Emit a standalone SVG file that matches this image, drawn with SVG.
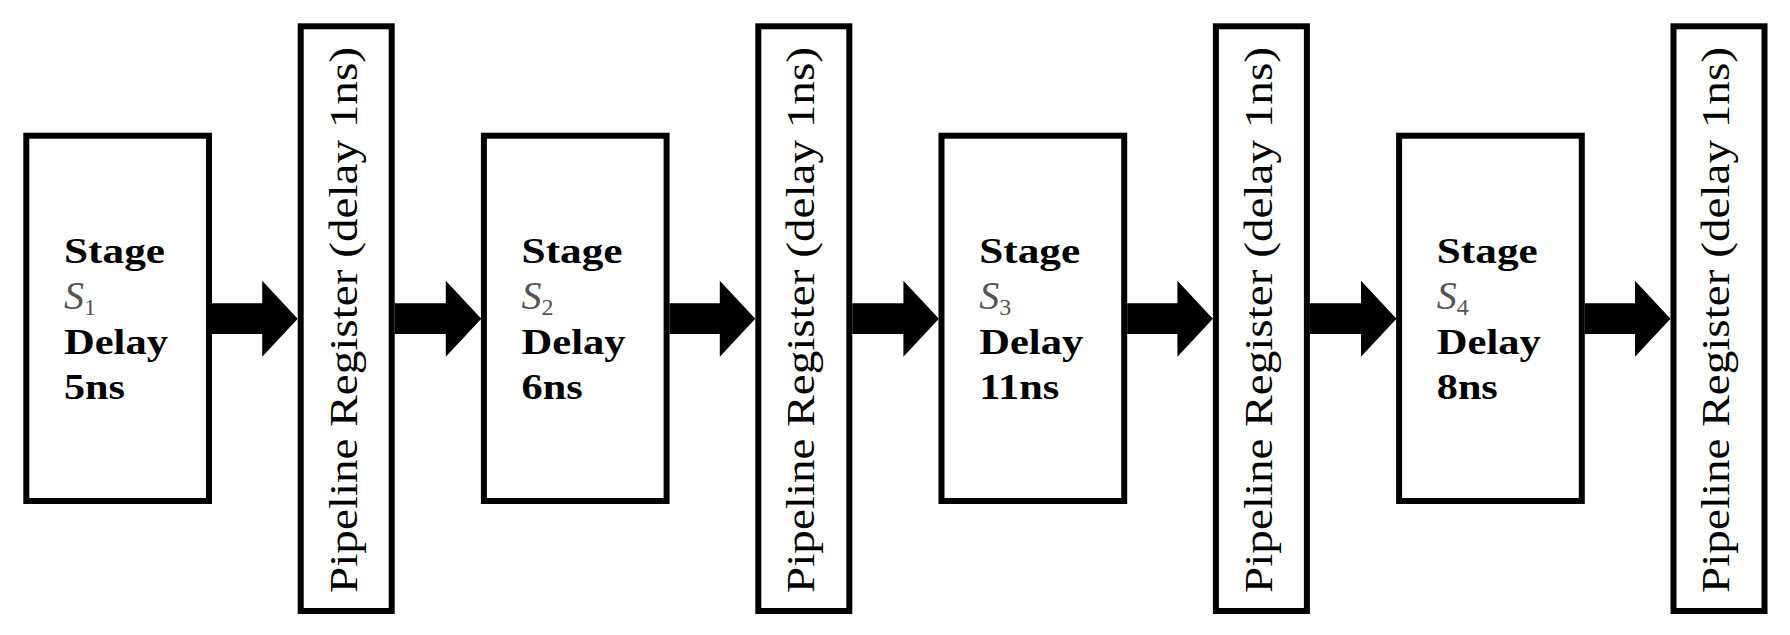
<svg xmlns="http://www.w3.org/2000/svg" width="1790" height="635" viewBox="0 0 1790 635">
<style>
.box{fill:#fff;stroke:#000;stroke-width:6}
.arr{fill:#000;stroke:none}
.st{font-family:"Liberation Serif","Times New Roman",serif;font-size:36px;font-weight:bold;fill:#000}
.sv{font-family:"Liberation Serif","Times New Roman",serif;font-size:40px;font-style:italic;fill:#555}
.sub{font-style:normal;font-size:24px}
.rg{font-family:"Liberation Serif","Times New Roman",serif;font-size:41px;fill:#000}
</style>
<rect width="1790" height="635" fill="#fff"/>
<g id="connectors">
<polygon class="arr" points="212,303.3 262.2,303.3 262.2,280.7 297.7,318.7 262.2,356.7 262.2,334 212,334"/>
<polygon class="arr" points="394.7,303.3 445.8,303.3 445.8,280.7 481.3,318.7 445.8,356.7 445.8,334 394.7,334"/>
<polygon class="arr" points="669.6,303.3 719.8,303.3 719.8,280.7 755.3,318.7 719.8,356.7 719.8,334 669.6,334"/>
<polygon class="arr" points="852.3,303.3 903.4,303.3 903.4,280.7 938.9,318.7 903.4,356.7 903.4,334 852.3,334"/>
<polygon class="arr" points="1127.2,303.3 1177.4,303.3 1177.4,280.7 1212.9,318.7 1177.4,356.7 1177.4,334 1127.2,334"/>
<polygon class="arr" points="1309.9,303.3 1361,303.3 1361,280.7 1396.5,318.7 1361,356.7 1361,334 1309.9,334"/>
<polygon class="arr" points="1584.8,303.3 1635,303.3 1635,280.7 1670.5,318.7 1635,356.7 1635,334 1584.8,334"/>
</g>
<g id="stage1">
<rect class="box" x="26.3" y="135.7" width="182.7" height="365.3"/>
<text class="st" x="64" y="262.5" textLength="101" lengthAdjust="spacingAndGlyphs">Stage</text>
<text class="sv" x="64" y="308.5">S<tspan class="sub" dy="6">1</tspan></text>
<text class="st" x="64" y="354" textLength="104" lengthAdjust="spacingAndGlyphs">Delay</text>
<text class="st" x="64" y="398.5" textLength="61" lengthAdjust="spacingAndGlyphs">5ns</text>
</g>
<g id="register1">
<rect class="box" x="300.7" y="26.3" width="91" height="584.7"/>
<text class="rg" transform="translate(356.5,593) rotate(-90)" x="0" y="0" textLength="546" lengthAdjust="spacingAndGlyphs">Pipeline Register (delay 1ns)</text>
</g>
<g id="stage2">
<rect class="box" x="483.9" y="135.7" width="182.7" height="365.3"/>
<text class="st" x="521.6" y="262.5" textLength="101" lengthAdjust="spacingAndGlyphs">Stage</text>
<text class="sv" x="521.6" y="308.5">S<tspan class="sub" dy="6">2</tspan></text>
<text class="st" x="521.6" y="354" textLength="104" lengthAdjust="spacingAndGlyphs">Delay</text>
<text class="st" x="521.6" y="398.5" textLength="61" lengthAdjust="spacingAndGlyphs">6ns</text>
</g>
<g id="register2">
<rect class="box" x="758.3" y="26.3" width="91" height="584.7"/>
<text class="rg" transform="translate(814.1,593) rotate(-90)" x="0" y="0" textLength="546" lengthAdjust="spacingAndGlyphs">Pipeline Register (delay 1ns)</text>
</g>
<g id="stage3">
<rect class="box" x="941.5" y="135.7" width="182.7" height="365.3"/>
<text class="st" x="979.2" y="262.5" textLength="101" lengthAdjust="spacingAndGlyphs">Stage</text>
<text class="sv" x="979.2" y="308.5">S<tspan class="sub" dy="6">3</tspan></text>
<text class="st" x="979.2" y="354" textLength="104" lengthAdjust="spacingAndGlyphs">Delay</text>
<text class="st" x="979.2" y="398.5" textLength="80" lengthAdjust="spacingAndGlyphs">11ns</text>
</g>
<g id="register3">
<rect class="box" x="1215.9" y="26.3" width="91" height="584.7"/>
<text class="rg" transform="translate(1271.7,593) rotate(-90)" x="0" y="0" textLength="546" lengthAdjust="spacingAndGlyphs">Pipeline Register (delay 1ns)</text>
</g>
<g id="stage4">
<rect class="box" x="1399.1" y="135.7" width="182.7" height="365.3"/>
<text class="st" x="1436.8" y="262.5" textLength="101" lengthAdjust="spacingAndGlyphs">Stage</text>
<text class="sv" x="1436.8" y="308.5">S<tspan class="sub" dy="6">4</tspan></text>
<text class="st" x="1436.8" y="354" textLength="104" lengthAdjust="spacingAndGlyphs">Delay</text>
<text class="st" x="1436.8" y="398.5" textLength="61" lengthAdjust="spacingAndGlyphs">8ns</text>
</g>
<g id="register4">
<rect class="box" x="1673.5" y="26.3" width="91" height="584.7"/>
<text class="rg" transform="translate(1729.3,593) rotate(-90)" x="0" y="0" textLength="546" lengthAdjust="spacingAndGlyphs">Pipeline Register (delay 1ns)</text>
</g>
</svg>
